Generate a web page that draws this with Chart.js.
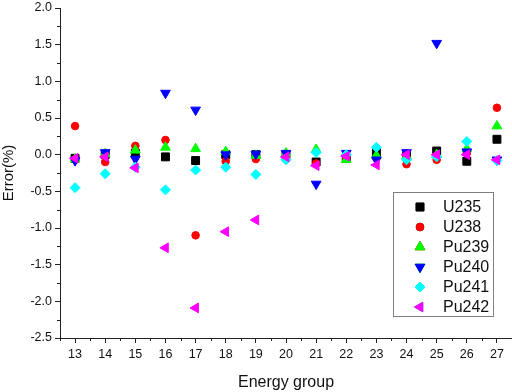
<!DOCTYPE html>
<html>
<head>
<meta charset="utf-8">
<script src="https://cdn.jsdelivr.net/npm/chart.js@4.4.0/dist/chart.umd.min.js"></script>
<style>
  html, body { margin: 0; padding: 0; background: #fff; }
  #wrap { width: 512px; height: 392px; }
</style>
</head>
<body>
<div id="wrap"><canvas id="myChart" width="512" height="392"></canvas></div>
<script>
// data block
const groups = [13, 14, 15, 16, 17, 18, 19, 20, 21, 22, 23, 24, 25, 26, 27];
const u235  = [-0.05, 0.00, 0.02, -0.03, -0.08, 0.00, 0.00, 0.00, -0.10, -0.05, 0.03, -0.02, 0.05, -0.09, 0.21];
const u238  = [0.39, -0.10, 0.12, 0.20, -1.10, -0.09, -0.06, -0.01, -0.12, -0.04, -0.05, -0.13, -0.07, 0.02, 0.64];
const pu239 = [-0.06, 0.01, 0.06, 0.10, 0.08, 0.04, -0.01, 0.02, 0.07, -0.07, -0.01, -0.02, 0.00, 0.08, 0.39];
const pu240 = [-0.08, 0.03, -0.06, 0.84, 0.61, 0.00, 0.01, 0.02, -0.40, 0.02, -0.07, 0.03, 1.52, 0.04, -0.07];
const pu241 = [-0.45, -0.26, -0.17, -0.48, -0.21, -0.17, -0.27, -0.07, 0.03, 0.00, 0.10, -0.07, -0.03, 0.18, -0.08];
const pu242 = [-0.05, -0.03, -0.18, -1.27, -2.09, -1.05, -0.89, -0.03, -0.15, -0.02, -0.14, 0.00, 0.00, 0.00, -0.07];

const FONT = "'Liberation Sans', Arial, sans-serif";

// series: label, values, color, point style, rotation, radius
const series = [
  ["U235", u235, "#000000", "rect", 0, 5.6],
  ["U238", u238, "#ff0000", "circle", 0, 3.8],
  ["Pu239", pu239, "#00ff00", "triangle", 0, 5.6],
  ["Pu240", pu240, "#0000ff", "triangle", 180, 5.6],
  ["Pu241", pu241, "#00ffff", "rectRot", 0, 5],
  ["Pu242", pu242, "#ff00ff", "triangle", 270, 5.6],
];

const data = {
  datasets: series.map(([label, vals, color, style, rot, r], i) => ({
    label: label,
    data: vals.map((v, k) => ({ x: groups[k], y: v })),
    backgroundColor: color,
    borderColor: color,
    borderWidth: 1,
    pointStyle: style,
    rotation: rot,
    pointRadius: r,
    order: series.length - i,
  })),
};

// minor ticks (short) drawn between the major ones
const minorTicks = {
  id: "minorTicks",
  afterDraw(chart) {
    const { ctx, chartArea: { left, bottom }, scales: { x, y } } = chart;
    ctx.save();
    ctx.strokeStyle = "#222";
    ctx.lineWidth = 1;
    ctx.beginPath();
    for (let v = 12.5; v <= 27.5; v += 1) {
      const px = Math.round(x.getPixelForValue(v)) + 0.5;
      ctx.moveTo(px, bottom);
      ctx.lineTo(px, bottom + 3);
    }
    for (let v = -2.25; v < 2; v += 0.5) {
      const py = Math.round(y.getPixelForValue(v)) + 0.5;
      ctx.moveTo(left, py);
      ctx.lineTo(left - 3, py);
    }
    ctx.stroke();
    ctx.restore();
  },
};

// legend box inside the plot
const boxLegend = {
  id: "boxLegend",
  afterDraw(chart) {
    const { ctx } = chart;
    const bx = 393, by = 192, bw = 100, bh = 124;
    ctx.save();
    ctx.fillStyle = "#fff";
    ctx.fillRect(bx, by, bw, bh);
    ctx.strokeStyle = "#808080";
    ctx.lineWidth = 1;
    ctx.strokeRect(bx + 0.5, by + 0.5, bw, bh);
    ctx.font = "16px " + FONT;
    ctx.textBaseline = "middle";
    chart.data.datasets.forEach((ds, i) => {
      const cy = by + 15 + i * 20;
      Chart.helpers.drawPoint(ctx, {
        pointStyle: ds.pointStyle,
        rotation: ds.rotation,
        radius: ds.pointRadius,
        borderWidth: 1,
      }, 420, cy);
      ctx.fillStyle = ds.backgroundColor;
      ctx.strokeStyle = ds.borderColor;
      ctx.fill();
      ctx.stroke();
      ctx.fillStyle = "#111";
      ctx.fillText(ds.label, 443, cy + 1);
    });
    ctx.restore();
  },
};

const config = {
  type: "scatter",
  data: data,
  options: {
    responsive: false,
    animation: false,
    layout: { autoPadding: false, padding: { top: 8, right: 0, left: 0, bottom: 0 } },
    plugins: {
      legend: { display: false },
      tooltip: { enabled: false },
    },
    scales: {
      x: {
        type: "linear",
        min: 12.5,
        max: 27.5,
        afterFit(scale) {
          scale.height = 54;
          scale.paddingLeft = 0;
          scale.paddingRight = 0;
        },
        border: { display: true, color: "#222", width: 1 },
        grid: {
          drawOnChartArea: false,
          tickLength: 5,
          tickColor: (c) => (Number.isInteger(c.tick.value) ? "#222" : "rgba(0,0,0,0)"),
        },
        ticks: {
          stepSize: 0.5,
          autoSkip: false,
          maxRotation: 0,
          padding: 4,
          color: "#111",
          font: { family: FONT, size: 12.5 },
          callback: (v) => (Number.isInteger(v) ? String(v) : ""),
        },
        title: {
          display: true,
          text: "Energy group",
          color: "#111",
          font: { family: FONT, size: 16 },
          padding: { top: 0, bottom: 0 },
        },
      },
      y: {
        min: -2.5,
        max: 2.0,
        afterFit(scale) {
          scale.width = 60;
          scale.paddingTop = 0;
          scale.paddingBottom = 0;
        },
        border: { display: true, color: "#222", width: 1 },
        grid: {
          drawOnChartArea: false,
          tickLength: 5,
          tickColor: (c) => (Math.abs(c.tick.value * 2 - Math.round(c.tick.value * 2)) < 1e-6 ? "#222" : "rgba(0,0,0,0)"),
        },
        ticks: {
          stepSize: 0.25,
          autoSkip: false,
          padding: 3,
          color: "#111",
          font: { family: FONT, size: 12.5 },
          callback: (v) => (Math.abs(v * 2 - Math.round(v * 2)) < 1e-6 ? v.toFixed(1) : ""),
        },
        title: {
          display: true,
          text: "Error(%)",
          color: "#111",
          font: { family: FONT, size: 15 },
          padding: { top: 0, bottom: 4 },
        },
      },
    },
  },
  plugins: [minorTicks, boxLegend],
};

const myChart = new Chart(document.getElementById("myChart"), config);
</script>
</body>
</html>
